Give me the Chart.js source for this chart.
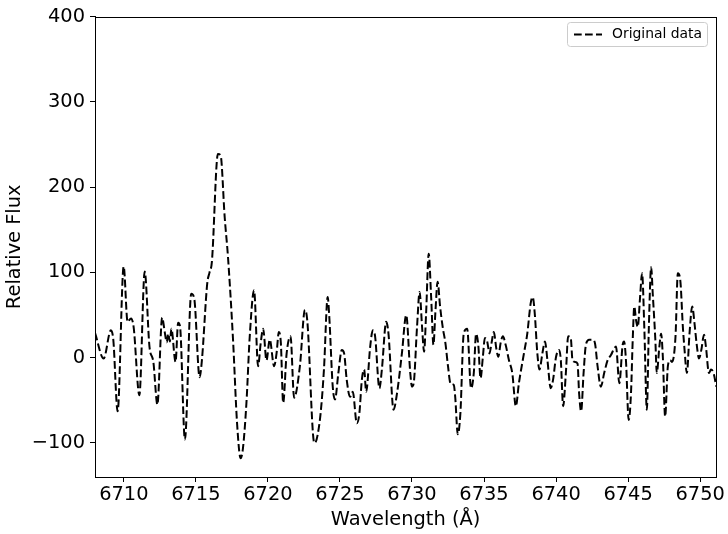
<!DOCTYPE html>
<html>
<head>
<meta charset="utf-8">
<script src="https://cdn.jsdelivr.net/npm/chart.js@4"></script>
<style>
  html, body { margin: 0; padding: 0; background: #fff; }
  #chart { display: block; }
</style>
</head>
<body>
<canvas id="chart" width="728" height="534"></canvas>
<script>
// Spectrum (wavelength in Å, relative flux)
const wavelength = [
  6708.0, 6708.6, 6709.1, 6709.27, 6709.57, 6709.99, 6710.26, 6710.5, 6710.68, 6711.08,
  6711.45, 6711.78, 6712.05, 6712.33, 6712.66, 6712.84, 6712.98, 6713.08, 6713.2, 6713.3,
  6713.59, 6713.77, 6713.9, 6714.24, 6714.68, 6714.89, 6715.26, 6715.42, 6715.79, 6715.95,
  6716.11, 6716.53, 6716.72, 6717.0, 6717.23, 6717.58, 6717.86, 6718.11, 6718.27, 6718.51,
  6718.74, 6719.04, 6719.32, 6719.5, 6719.67, 6719.9, 6720.13, 6720.43, 6720.6, 6720.76,
  6720.9, 6721.06, 6721.3, 6721.57, 6721.82, 6722.22, 6722.57, 6722.73, 6723.22, 6723.38,
  6723.66, 6723.89, 6724.15, 6724.26, 6724.5, 6724.66, 6724.89, 6725.13, 6725.29, 6725.47,
  6725.7, 6725.89, 6726.17, 6726.35, 6726.52, 6726.68, 6726.82, 6727.1, 6727.28, 6727.44,
  6727.74, 6727.91, 6728.21, 6728.37, 6728.72, 6728.96, 6729.3, 6729.6, 6729.88, 6730.0,
  6730.12, 6730.35, 6730.53, 6730.7, 6730.84, 6730.98, 6731.16, 6731.33, 6731.49, 6731.62,
  6731.78, 6731.95, 6732.13, 6732.32, 6732.5, 6732.67, 6732.9, 6733.0, 6733.18, 6733.36,
  6733.59, 6733.83, 6734.1, 6734.29, 6734.45, 6734.6, 6734.76, 6734.92, 6735.06, 6735.22,
  6735.38, 6735.52, 6735.68, 6735.85, 6735.99, 6736.15, 6736.31, 6736.5, 6736.73, 6736.96,
  6737.21, 6737.42, 6737.77, 6738.0, 6738.24, 6738.38, 6738.52, 6738.7, 6738.85, 6739.05,
  6739.23, 6739.4, 6739.63, 6739.79, 6740.0, 6740.21, 6740.33, 6740.49, 6740.68, 6740.84,
  6741.02, 6741.14, 6741.32, 6741.49, 6741.6, 6741.74, 6741.91, 6742.07, 6742.3, 6742.53,
  6742.7, 6742.88, 6743.11, 6743.34, 6743.58, 6743.81, 6744.04, 6744.16, 6744.39, 6744.62,
  6744.72, 6744.85, 6745.04, 6745.2, 6745.32, 6745.43, 6745.55, 6745.67, 6745.83, 6745.97,
  6746.13, 6746.3, 6746.44, 6746.6, 6746.71, 6746.89, 6746.99, 6747.17, 6747.29, 6747.41,
  6747.57, 6747.76, 6747.92, 6748.04, 6748.29, 6748.45, 6748.62, 6748.8, 6748.9, 6749.08,
  6749.26, 6749.45, 6749.61, 6749.75, 6749.92, 6750.08, 6750.27, 6750.4, 6750.61, 6750.75,
  6750.93, 6751.12
];
const flux = [
  29, -1, 32, 21, -63, 107, 42, 46, 36, -44,
  101, 13, -5, -55, 47, 30, 18, 28, 19, 34,
  -5, 41, 37, -96, 75, 69, -23, -3, 87, 100,
  112, 239, 237, 165, 118, 21, -77, -118, -106, -53,
  25, 79, -10, 17, 34, -3, 21, -10, 5, 30,
  17, -53, 5, 25, -47, -10, 56, 44, -100, -96,
  -65, -14, 71, 48, -34, -49, -18, 9, 5, -26,
  -46, -40, -77, -65, -26, -14, -40, 13, 32, 25,
  -36, -14, 42, 28, -61, -42, 5, 50, -18, -34,
  -30, 36, 77, 36, 7, 52, 122, 71, 15, 52,
  89, 60, 36, 17, -10, -30, -32, -46, -90, -65,
  28, 34, -36, -18, 28, 15, -24, 1, 23, 19,
  5, 17, 30, 11, 1, 17, 25, 15, -3, -18,
  -57, -30, 5, 28, 64, 71, 52, 5, -14, 5,
  19, -3, -36, -26, 1, 9, -3, -57, -18, 25,
  23, -3, -5, -7, -42, -63, -18, 15, 21, 21,
  17, -10, -34, -18, -3, 3, 11, 13, -30, 15,
  19, -3, -73, -42, 21, 60, 44, 36, 71, 99,
  32, -61, 36, 106, 75, 21, -18, 13, 28, 1,
  -69, -10, -3, -5, 25, 99, 91, 36, 13, -18,
  28, 60, 40, 17, -1, 9, 27, 13, -18, -14,
  -18, -34
];
const xTicks = [6710, 6715, 6720, 6725, 6730, 6735, 6740, 6745, 6750];
const yTicks = [-100, 0, 100, 200, 300, 400];
const seriesLabel = 'Original data';

const FONT = 'DejaVu Sans';
const points = wavelength.map((w, i) => ({ x: w, y: flux[i] }));

// frame + matplotlib-like legend box
const framePlugin = {
  id: 'frame',
  afterDraw(chart) {
    const { ctx, chartArea: a } = chart;
    ctx.save();
    ctx.strokeStyle = '#000';
    ctx.lineWidth = 1;
    ctx.strokeRect(Math.round(a.left) + 0.5, Math.round(a.top) + 0.5,
      Math.round(a.right - a.left), Math.round(a.bottom - a.top));

    // legend
    const bx = 567.5, by = 22.5, bw = 140, bh = 24, r = 3;
    ctx.fillStyle = 'rgba(255,255,255,0.8)';
    ctx.strokeStyle = '#cccccc';
    ctx.beginPath();
    ctx.roundRect(bx, by, bw, bh, r);
    ctx.fill();
    ctx.stroke();
    ctx.strokeStyle = '#000';
    ctx.lineWidth = 2;
    ctx.setLineDash([7.7, 3.3]);
    ctx.beginPath();
    ctx.moveTo(574, 34.5);
    ctx.lineTo(602, 34.5);
    ctx.stroke();
    ctx.setLineDash([]);
    ctx.fillStyle = '#000';
    ctx.font = '13.9px "' + FONT + '"';
    ctx.textBaseline = 'middle';
    ctx.textAlign = 'left';
    ctx.fillText(seriesLabel, 612, 34.5);
    ctx.restore();
  }
};

const tickFont = { family: FONT, size: 19.4 };

new Chart(document.getElementById('chart'), {
  type: 'line',
  data: {
    datasets: [{
      label: seriesLabel,
      data: points,
      borderColor: '#000',
      borderWidth: 2,
      borderDash: [7.7, 3.3],
      pointRadius: 0,
      fill: false,
      cubicInterpolationMode: 'monotone'
    }]
  },
  options: {
    responsive: false,
    animation: false,
    layout: { padding: { left: 0, right: 12, top: 14, bottom: 0 } },
    plugins: { legend: { display: false }, tooltip: { enabled: false } },
    scales: {
      x: {
        type: 'linear',
        min: 6708,
        max: 6751.1,
        afterBuildTicks: s => { s.ticks = xTicks.map(v => ({ value: v })); },
        afterFit: s => { s.height = 57; },
        ticks: { font: tickFont, color: '#000', padding: 1, maxRotation: 0,
          callback: v => String(v) },
        grid: { drawOnChartArea: false, drawTicks: true, tickLength: 5, color: '#000' },
        border: { display: true, color: '#000' },
        title: { display: true, text: 'Wavelength (Å)', font: tickFont, color: '#000',
          padding: { top: 0, bottom: 2 } }
      },
      y: {
        min: -140,
        max: 400,
        afterBuildTicks: s => { s.ticks = yTicks.map(v => ({ value: v })); },
        afterFit: s => { s.width = 95; },
        ticks: { font: tickFont, color: '#000', padding: 5,
          callback: v => String(v).replace('-', '\u2212') },
        grid: { drawOnChartArea: false, drawTicks: true, tickLength: 5, color: '#000' },
        border: { display: true, color: '#000' },
        title: { display: true, text: 'Relative Flux', font: tickFont, color: '#000',
          padding: { top: 3, bottom: 0 } }
      }
    }
  },
  plugins: [framePlugin]
});
</script>
</body>
</html>
